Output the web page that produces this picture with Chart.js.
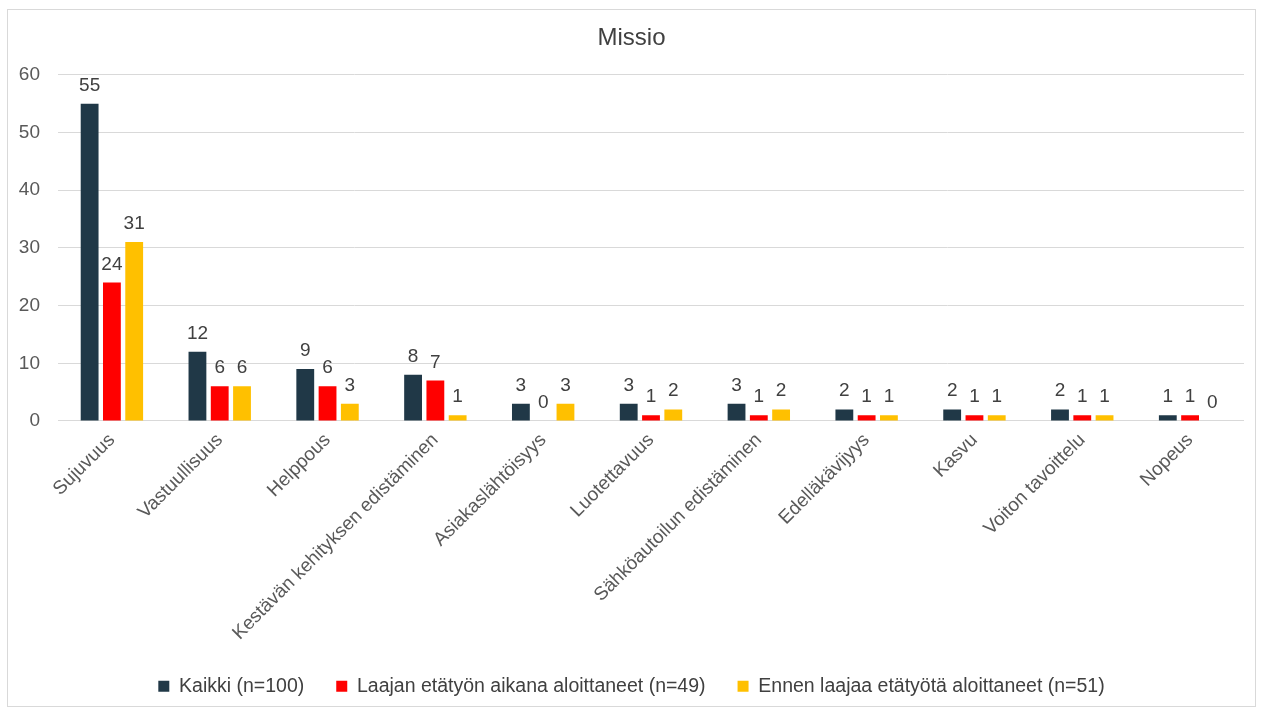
<!DOCTYPE html>
<html>
<head>
<meta charset="utf-8">
<script src="https://cdn.jsdelivr.net/npm/chart.js@4/dist/chart.umd.min.js"></script>
<style>
	body { margin: 0; background: #fff; }
	#wrap { position: absolute; left: 7px; top: 9px; width: 1249px; height: 698px; border: 1px solid #d9d9d9; box-sizing: border-box; }
</style>
</head>
<body>
<div id="wrap"><canvas id="myChart"></canvas></div>
<script>
var categories = ["Sujuvuus", "Vastuullisuus", "Helppous", "Kestävän kehityksen edistäminen", "Asiakaslähtöisyys", "Luotettavuus", "Sähköautoilun edistäminen", "Edelläkävijyys", "Kasvu", "Voiton tavoittelu", "Nopeus"]
var kaikki = [55, 12, 9, 8, 3, 3, 3, 2, 2, 2, 1]
var laajan = [24, 6, 6, 7, 0, 1, 1, 1, 1, 1, 1]
var ennen = [31, 6, 3, 1, 3, 2, 2, 1, 1, 1, 0]
var yTicks = [0, 10, 20, 30, 40, 50, 60]

var fontFamily = '"Liberation Sans", Arial, sans-serif'

// values written above each bar
var valueLabels = {
	id: 'valueLabels',
	afterDatasetsDraw: function(chart){
		var ctx = chart.ctx
		ctx.save()
		ctx.font = '19px ' + fontFamily
		ctx.fillStyle = '#404040'
		ctx.textAlign = 'center'
		ctx.textBaseline = 'alphabetic'
		chart.data.datasets.forEach(function(ds, i){
			chart.getDatasetMeta(i).data.forEach(function(bar, j){
				ctx.fillText(ds.data[j], bar.x, bar.y - 13)
			})
		})
		ctx.restore()
	}
}

var myChart = document.getElementById("myChart").getContext('2d')
var chart = new Chart(myChart, {
	type: 'bar',
	data: {
		labels: categories,
		datasets: [
			{ label: "Kaikki (n=100)", data: kaikki, backgroundColor: "#203847" },
			{ label: "Laajan etätyön aikana aloittaneet (n=49)", data: laajan, backgroundColor: "#ff0000" },
			{ label: "Ennen laajaa etätyötä aloittaneet (n=51)", data: ennen, backgroundColor: "#ffc000" }
		]
	},
	options: {
		responsive: true,
		maintainAspectRatio: false,
		animation: false,
		datasets: { bar: { categoryPercentage: 0.62, barPercentage: 0.8 } },
		layout: { padding: { left: 11, right: 11, top: 0, bottom: 0 } },
		scales: {
			x: {
				grid: { display: false },
				border: { display: false },
				afterFit: function(axis){ axis.paddingLeft = 0 },
				ticks: {
					minRotation: 45, maxRotation: 45,
					padding: 0,
					color: '#595959',
					font: { family: fontFamily, size: 19 }
				}
			},
			y: {
				min: 0, max: 60,
				afterBuildTicks: function(axis){ axis.ticks = yTicks.map(function(v){ return { value: v } }) },
				afterFit: function(axis){ axis.width = 39 },
				grid: { color: '#d9d9d9', drawTicks: false },
				border: { display: false },
				ticks: {
					padding: 18,
					color: '#595959',
					font: { family: fontFamily, size: 19 }
				}
			}
		},
		plugins: {
			title: {
				display: true,
				text: 'Missio',
				color: '#404040',
				font: { family: fontFamily, size: 24, weight: 'normal' },
				padding: { top: 14, bottom: 22 }
			},
			legend: {
				position: 'bottom',
				labels: {
					boxWidth: 11, boxHeight: 11, padding: 32,
					color: '#404040',
					font: { family: fontFamily, size: 19.5 }
				}
			},
			tooltip: { enabled: false }
		}
	},
	plugins: [valueLabels]
})
</script>
</body>
</html>
